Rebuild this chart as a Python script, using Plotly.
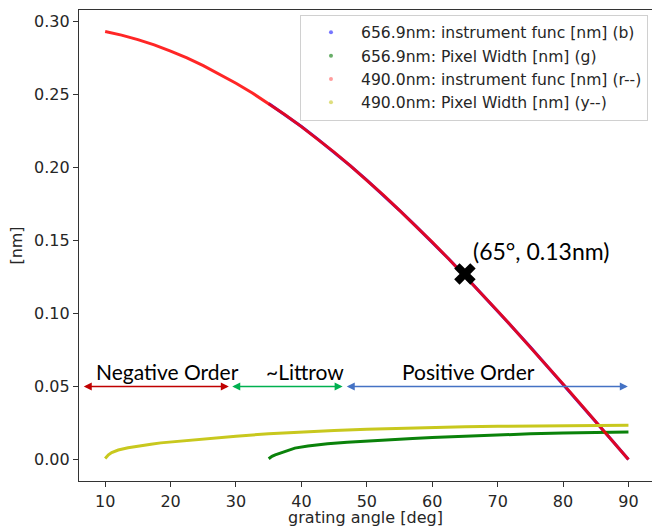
import plotly.graph_objects as go

# ---- data ----
angle_inst_490 = [10, 12.5, 15, 17.5, 20, 22.5, 25, 27.5, 30, 32.5, 35, 37.5, 40, 42.5, 45, 47.5,
                  50, 52.5, 55, 57.5, 60, 62.5, 65, 67.5, 70, 72.5, 75, 77.5, 80, 82.5, 85, 87.5, 90]
inst_490 = [0.293, 0.2905, 0.2874, 0.2838, 0.2796, 0.2749, 0.2696, 0.2638, 0.2576, 0.2509,
            0.2437, 0.2360, 0.2279, 0.2193, 0.2104, 0.2010, 0.1912, 0.1811, 0.1706, 0.1598,
            0.1488, 0.1374, 0.1257, 0.1138, 0.1017, 0.0894, 0.0770, 0.0643, 0.0517, 0.0388,
            0.0259, 0.0130, 0.0000]

angle_inst_656 = [35, 37.5, 40, 42.5, 45, 47.5, 50, 52.5, 55, 57.5, 60, 62.5, 65, 67.5, 70,
                  72.5, 75, 77.5, 80, 82.5, 85, 87.5, 90]
inst_656 = [0.2437, 0.2360, 0.2279, 0.2193, 0.2104, 0.2010, 0.1912, 0.1811, 0.1706, 0.1598,
            0.1488, 0.1374, 0.1257, 0.1138, 0.1017, 0.0894, 0.0770, 0.0643, 0.0517, 0.0388,
            0.0259, 0.0130, 0.0000]

angle_pix_490 = [10, 10.5, 11, 12, 13.5, 15, 17, 18.5, 20, 22, 23.6, 25, 28, 30, 35, 40, 45,
                 50, 55, 60, 65, 70, 75, 80, 85, 90]
pix_490 = [0.0007, 0.0032, 0.0048, 0.0065, 0.0080, 0.0092, 0.0105, 0.0114, 0.0120, 0.0130,
           0.0137, 0.0142, 0.0153, 0.0160, 0.0176, 0.0189, 0.0199, 0.0208, 0.0215, 0.0220,
           0.0224, 0.0228, 0.0230, 0.0232, 0.0233, 0.0234]

angle_pix_656 = [35, 35.5, 36, 37, 38, 39, 41, 44, 47, 50, 53.6, 57, 60, 65, 70, 75, 80, 85, 90]
pix_656 = [0.0005, 0.0022, 0.0032, 0.0048, 0.0065, 0.0078, 0.0092, 0.0108, 0.0118, 0.0127,
           0.0137, 0.0144, 0.0150, 0.0160, 0.0168, 0.0176, 0.0182, 0.0186, 0.0189]

legend_names = ["656.9nm: instrument func [nm] (b)", "656.9nm: Pixel Width [nm] (g)",
                "490.0nm: instrument func [nm] (r--)", "490.0nm: Pixel Width [nm] (y--)"]
legend_colors = ["rgba(60,60,255,0.7)", "rgba(40,140,40,0.7)",
                 "rgba(255,90,90,0.6)", "rgba(200,200,40,0.6)"]

marked_point = (65, 0.127)
marked_label = "(65°, 0.13nm)"

regions = ["Negative Order", "~Littrow", "Positive Order"]
region_start = [6.5, 29.2, 46.7]
region_end = [28.9, 46.3, 89.9]
region_colors = ["#C00000", "#00B050", "#4472C4"]
region_label_x = [19.6, 40.5, 65.5]
arrow_y = 0.05
region_label_y = 0.0605

x_ticks = [10, 20, 30, 40, 50, 60, 70, 80, 90]
y_ticks = [0.00, 0.05, 0.10, 0.15, 0.20, 0.25, 0.30]

fig = go.Figure()

# data curves
fig.add_trace(go.Scatter(x=angle_inst_656, y=inst_656, mode="lines", line=dict(color="rgb(40,40,255)", width=3),
                         showlegend=False, hoverinfo="skip"))
fig.add_trace(go.Scatter(x=angle_pix_656, y=pix_656, mode="lines", line=dict(color="rgb(10,130,10)", width=3),
                         showlegend=False, hoverinfo="skip"))
fig.add_trace(go.Scatter(x=angle_inst_490, y=inst_490, mode="lines", line=dict(color="rgba(255,0,0,0.85)", width=3),
                         showlegend=False, hoverinfo="skip"))
fig.add_trace(go.Scatter(x=angle_pix_490, y=pix_490, mode="lines", line=dict(color="rgb(200,200,30)", width=3),
                         showlegend=False, hoverinfo="skip"))

# legend entries (small dots, as in the reference)
for name, col in zip(legend_names, legend_colors):
    fig.add_trace(go.Scatter(x=[None], y=[None], mode="markers", name=name,
                             marker=dict(color=col, size=4)))

# marked point
fig.add_trace(go.Scatter(x=[marked_point[0]], y=[marked_point[1]], mode="markers", showlegend=False,
                         marker=dict(symbol="x", size=19, color="black", line=dict(width=0))))

annotations = []
annotations.append(dict(x=76.6, y=0.1429, xref="x", yref="y", text=marked_label, showarrow=False,
                        font=dict(family="Lato", size=23, color="black"), xanchor="center", yanchor="middle"))
for name, x0, x1, col, lx in zip(regions, region_start, region_end, region_colors, region_label_x):
    annotations.append(dict(x=x1, y=arrow_y, ax=x0, ay=arrow_y, xref="x", yref="y", axref="x", ayref="y",
                            text="", showarrow=True, arrowhead=2, startarrowhead=2, arrowside="end+start",
                            arrowsize=1, startarrowsize=1, arrowwidth=1.6, arrowcolor=col))
    annotations.append(dict(x=lx, y=region_label_y, xref="x", yref="y", text=name, showarrow=False,
                            font=dict(family="Lato", size=21, color="black"), xanchor="center", yanchor="middle"))

axis_col = "#333333"
fig.update_layout(
    width=652, height=527,
    margin=dict(l=79, r=0, t=10, b=46, pad=0),
    paper_bgcolor="white", plot_bgcolor="white",
    font=dict(family="DejaVu Sans", size=16, color="#262626"),
    annotations=annotations,
    legend=dict(x=0.993, y=0.99, xanchor="right", yanchor="top", bgcolor="rgba(255,255,255,0.9)",
                bordercolor="#d0d0d0", borderwidth=1, font=dict(family="DejaVu Sans", size=15.6, color="#262626"),
                itemwidth=50),
    xaxis=dict(range=[6, 93.6], showline=True, linecolor=axis_col, linewidth=1.3, mirror=True,
               ticks="outside", ticklen=5, tickcolor=axis_col, tickvals=x_ticks, showgrid=False, zeroline=False,
               ticklabelstandoff=1,
               title=dict(text="grating angle [deg]", font=dict(size=16), standoff=0)),
    yaxis=dict(range=[-0.0147, 0.3077], showline=True, linecolor=axis_col, linewidth=1.3, mirror=False,
               ticks="outside", ticklen=5, tickcolor=axis_col, tickvals=y_ticks, tickformat=".2f",
               showgrid=False, zeroline=False,
               title=dict(text="[nm]", font=dict(size=16), standoff=7)),
)

fig.write_html("out.html")
